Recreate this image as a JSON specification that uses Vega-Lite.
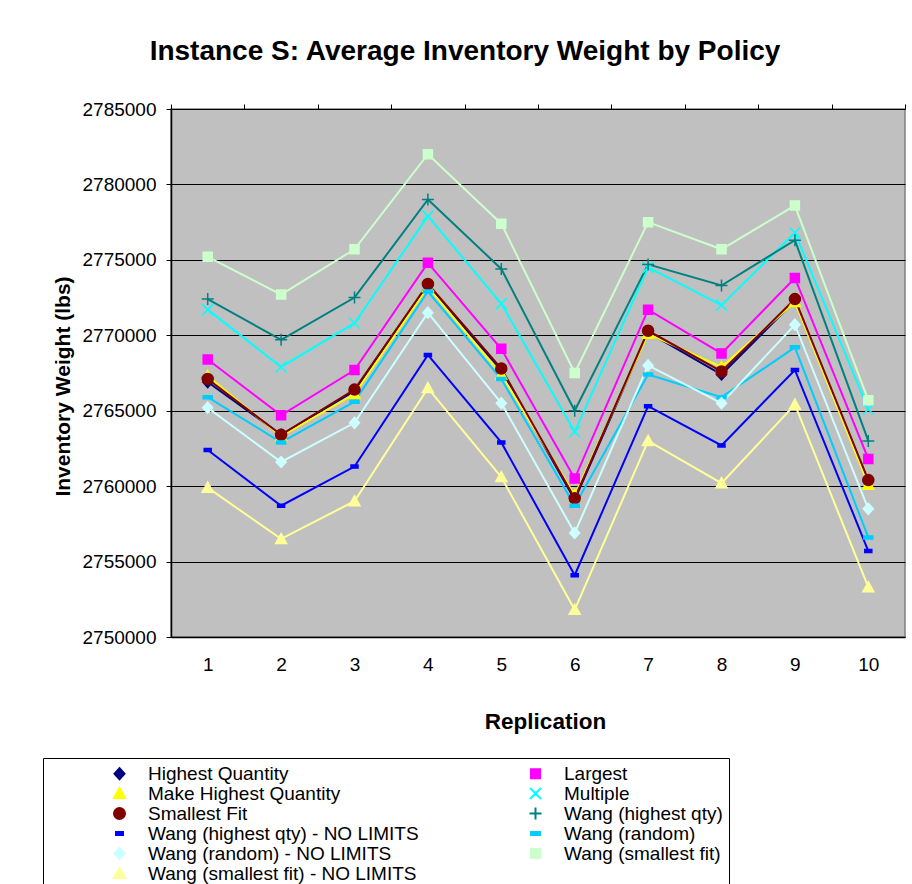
{
  "$schema": "https://vega.github.io/schema/vega-lite/v6.json",
  "autosize": {"type": "none"},
  "padding": {"left": 171, "top": 109, "right": 7, "bottom": 247},
  "background": "white",
  "width": 734,
  "height": 528,
  "title": {"text": "Instance S: Average Inventory Weight by Policy", "font": "Liberation Sans", "fontSize": 28, "fontWeight": "bold", "color": "black", "anchor": "middle", "frame": "group", "baseline": "alphabetic", "offset": 12, "dx": -73},
  "view": {"fill": "#C0C0C0", "stroke": "#808080", "strokeWidth": 1.5},
  "resolve": {"axis": {"x": "independent"}},
  "data": {"values": [
    {"r":1,"p":"Highest Quantity","v":2766900},{"r":2,"p":"Highest Quantity","v":2763400},{"r":3,"p":"Highest Quantity","v":2766300},{"r":4,"p":"Highest Quantity","v":2773300},{"r":5,"p":"Highest Quantity","v":2767700},{"r":6,"p":"Highest Quantity","v":2759100},{"r":7,"p":"Highest Quantity","v":2770200},{"r":8,"p":"Highest Quantity","v":2767400},{"r":9,"p":"Highest Quantity","v":2772300},{"r":10,"p":"Highest Quantity","v":2760300},
    {"r":1,"p":"Largest","v":2768400},{"r":2,"p":"Largest","v":2764700},{"r":3,"p":"Largest","v":2767700},{"r":4,"p":"Largest","v":2774800},{"r":5,"p":"Largest","v":2769100},{"r":6,"p":"Largest","v":2760500},{"r":7,"p":"Largest","v":2771700},{"r":8,"p":"Largest","v":2768800},{"r":9,"p":"Largest","v":2773800},{"r":10,"p":"Largest","v":2761800},
    {"r":1,"p":"Make Highest Quantity","v":2767300},{"r":2,"p":"Make Highest Quantity","v":2763300},{"r":3,"p":"Make Highest Quantity","v":2766100},{"r":4,"p":"Make Highest Quantity","v":2773200},{"r":5,"p":"Make Highest Quantity","v":2767400},{"r":6,"p":"Make Highest Quantity","v":2759400},{"r":7,"p":"Make Highest Quantity","v":2770100},{"r":8,"p":"Make Highest Quantity","v":2767900},{"r":9,"p":"Make Highest Quantity","v":2772200},{"r":10,"p":"Make Highest Quantity","v":2760100},
    {"r":1,"p":"Multiple","v":2771700},{"r":2,"p":"Multiple","v":2767900},{"r":3,"p":"Multiple","v":2770800},{"r":4,"p":"Multiple","v":2777900},{"r":5,"p":"Multiple","v":2772100},{"r":6,"p":"Multiple","v":2763600},{"r":7,"p":"Multiple","v":2774500},{"r":8,"p":"Multiple","v":2772000},{"r":9,"p":"Multiple","v":2776800},{"r":10,"p":"Multiple","v":2765100},
    {"r":1,"p":"Smallest Fit","v":2767100},{"r":2,"p":"Smallest Fit","v":2763400},{"r":3,"p":"Smallest Fit","v":2766400},{"r":4,"p":"Smallest Fit","v":2773400},{"r":5,"p":"Smallest Fit","v":2767800},{"r":6,"p":"Smallest Fit","v":2759200},{"r":7,"p":"Smallest Fit","v":2770300},{"r":8,"p":"Smallest Fit","v":2767600},{"r":9,"p":"Smallest Fit","v":2772400},{"r":10,"p":"Smallest Fit","v":2760400},
    {"r":1,"p":"Wang (highest qty)","v":2772400},{"r":2,"p":"Wang (highest qty)","v":2769700},{"r":3,"p":"Wang (highest qty)","v":2772500},{"r":4,"p":"Wang (highest qty)","v":2779000},{"r":5,"p":"Wang (highest qty)","v":2774400},{"r":6,"p":"Wang (highest qty)","v":2765000},{"r":7,"p":"Wang (highest qty)","v":2774700},{"r":8,"p":"Wang (highest qty)","v":2773300},{"r":9,"p":"Wang (highest qty)","v":2776300},{"r":10,"p":"Wang (highest qty)","v":2763000},
    {"r":1,"p":"Wang (highest qty) - NO LIMITS","v":2762400},{"r":2,"p":"Wang (highest qty) - NO LIMITS","v":2758700},{"r":3,"p":"Wang (highest qty) - NO LIMITS","v":2761300},{"r":4,"p":"Wang (highest qty) - NO LIMITS","v":2768700},{"r":5,"p":"Wang (highest qty) - NO LIMITS","v":2762900},{"r":6,"p":"Wang (highest qty) - NO LIMITS","v":2754100},{"r":7,"p":"Wang (highest qty) - NO LIMITS","v":2765300},{"r":8,"p":"Wang (highest qty) - NO LIMITS","v":2762700},{"r":9,"p":"Wang (highest qty) - NO LIMITS","v":2767700},{"r":10,"p":"Wang (highest qty) - NO LIMITS","v":2755700},
    {"r":1,"p":"Wang (random)","v":2765900},{"r":2,"p":"Wang (random)","v":2762900},{"r":3,"p":"Wang (random)","v":2765600},{"r":4,"p":"Wang (random)","v":2772900},{"r":5,"p":"Wang (random)","v":2767100},{"r":6,"p":"Wang (random)","v":2758700},{"r":7,"p":"Wang (random)","v":2767400},{"r":8,"p":"Wang (random)","v":2765900},{"r":9,"p":"Wang (random)","v":2769200},{"r":10,"p":"Wang (random)","v":2756600},
    {"r":1,"p":"Wang (random) - NO LIMITS","v":2765200},{"r":2,"p":"Wang (random) - NO LIMITS","v":2761600},{"r":3,"p":"Wang (random) - NO LIMITS","v":2764200},{"r":4,"p":"Wang (random) - NO LIMITS","v":2771500},{"r":5,"p":"Wang (random) - NO LIMITS","v":2765500},{"r":6,"p":"Wang (random) - NO LIMITS","v":2756900},{"r":7,"p":"Wang (random) - NO LIMITS","v":2768000},{"r":8,"p":"Wang (random) - NO LIMITS","v":2765500},{"r":9,"p":"Wang (random) - NO LIMITS","v":2770700},{"r":10,"p":"Wang (random) - NO LIMITS","v":2758500},
    {"r":1,"p":"Wang (smallest fit)","v":2775200},{"r":2,"p":"Wang (smallest fit)","v":2772700},{"r":3,"p":"Wang (smallest fit)","v":2775700},{"r":4,"p":"Wang (smallest fit)","v":2782000},{"r":5,"p":"Wang (smallest fit)","v":2777400},{"r":6,"p":"Wang (smallest fit)","v":2767500},{"r":7,"p":"Wang (smallest fit)","v":2777500},{"r":8,"p":"Wang (smallest fit)","v":2775700},{"r":9,"p":"Wang (smallest fit)","v":2778600},{"r":10,"p":"Wang (smallest fit)","v":2765700},
    {"r":1,"p":"Wang (smallest fit) - NO LIMITS","v":2759900},{"r":2,"p":"Wang (smallest fit) - NO LIMITS","v":2756500},{"r":3,"p":"Wang (smallest fit) - NO LIMITS","v":2759000},{"r":4,"p":"Wang (smallest fit) - NO LIMITS","v":2766500},{"r":5,"p":"Wang (smallest fit) - NO LIMITS","v":2760600},{"r":6,"p":"Wang (smallest fit) - NO LIMITS","v":2751800},{"r":7,"p":"Wang (smallest fit) - NO LIMITS","v":2763000},{"r":8,"p":"Wang (smallest fit) - NO LIMITS","v":2760200},{"r":9,"p":"Wang (smallest fit) - NO LIMITS","v":2765400},{"r":10,"p":"Wang (smallest fit) - NO LIMITS","v":2753300}
  ]},
  "layer": [
    {
      "mark": {"type": "line", "strokeWidth": 2},
      "encoding": {
        "x": {"field": "r", "type": "quantitative", "scale": {"domain": [0.5, 10.5], "nice": false, "zero": false},
              "axis": {"values": [1,2,3,4,5,6,7,8,9,10], "format": "d", "ticks": false, "domain": true, "domainColor": "black", "domainWidth": 1.5, "grid": false, "labelFontSize": 19, "labelPadding": 18, "labelColor": "black", "title": "Replication", "titleFontSize": 22.5, "titleFontWeight": "bold", "titleColor": "black", "titlePadding": 36, "titleX": 374}},
        "y": {"field": "v", "type": "quantitative", "scale": {"domain": [2750000, 2785000], "nice": false, "zero": false},
              "axis": {"values": [2750000,2755000,2760000,2765000,2770000,2775000,2780000,2785000], "format": "d", "grid": true, "gridColor": "black", "gridWidth": 1, "gridOpacity": 1, "tickColor": "black", "tickSize": 5, "domainColor": "black", "domainWidth": 1.5, "labelFontSize": 19, "labelColor": "black", "labelPadding": 10, "title": "Inventory Weight (lbs)", "titleFontSize": 21, "titleFontWeight": "bold", "titleColor": "black", "titlePadding": 9, "titleY": 277}},
        "color": {"field": "p", "type": "nominal",
                  "scale": {"domain": ["Highest Quantity","Largest","Make Highest Quantity","Multiple","Smallest Fit","Wang (highest qty)","Wang (highest qty) - NO LIMITS","Wang (random)","Wang (random) - NO LIMITS","Wang (smallest fit)","Wang (smallest fit) - NO LIMITS"],
                            "range": ["#000080","#FF00FF","#FFFF00","#00FFFF","#800000","#008080","#0000FF","#00CCFF","#CCFFFF","#CCFFCC","#FFFF99"]}}
      }
    },
    {
      "mark": {"type": "point", "filled": true, "size": 100, "strokeWidth": 1.5, "opacity": 1},
      "encoding": {
        "x": {"field": "r", "type": "quantitative",
              "axis": {"values": [0.5,1.5,2.5,3.5,4.5,5.5,6.5,7.5,8.5,9.5,10.5], "labels": false, "ticks": true, "tickSize": 5, "tickColor": "black", "domain": false, "grid": false, "title": null}},
        "y": {"field": "v", "type": "quantitative"},
        "color": {"field": "p", "type": "nominal",
                  "legend": {"orient": "none", "legendX": -128, "legendY": 649, "direction": "horizontal", "columns": 2, "columnPadding": 46, "rowPadding": -2, "padding": 6, "strokeColor": "black", "fillColor": "white", "title": null, "labelFont": "Liberation Sans", "labelFontSize": 19, "labelColor": "black", "labelOffset": 19, "symbolOffset": 61, "labelLimit": 1000, "symbolSize": 100, "symbolStrokeWidth": 2}},
        "stroke": {"field": "p", "type": "nominal", "legend": null,
                  "scale": {"domain": ["Highest Quantity","Largest","Make Highest Quantity","Multiple","Smallest Fit","Wang (highest qty)","Wang (highest qty) - NO LIMITS","Wang (random)","Wang (random) - NO LIMITS","Wang (smallest fit)","Wang (smallest fit) - NO LIMITS"],
                            "range": ["#000080","#FF00FF","#FFFF00","#00FFFF","#800000","#008080","#0000FF","#00CCFF","#CCFFFF","#CCFFCC","#FFFF99"]}},
        "shape": {"field": "p", "type": "nominal", "legend": null,
                  "scale": {"domain": ["Highest Quantity","Largest","Make Highest Quantity","Multiple","Smallest Fit","Wang (highest qty)","Wang (highest qty) - NO LIMITS","Wang (random)","Wang (random) - NO LIMITS","Wang (smallest fit)","Wang (smallest fit) - NO LIMITS"],
                            "range": ["M0,-1.1L1,0L0,1.1L-1,0Z","M-0.9,-0.9H0.9V0.9H-0.9Z","M0,-1.1L1.1,0.9H-1.1Z","M-1.1,-1.1L1.1,1.1M1.1,-1.1L-1.1,1.1","M-1.1,0A1.1,1.1,0,1,1,1.1,0A1.1,1.1,0,1,1,-1.1,0Z","M0,-1.2V1.2M-1.2,0H1.2","M-0.7,-0.3H0.7V0.3H-0.7Z","M-0.9,-0.3H0.9V0.3H-0.9Z","M0,-1.1L1,0L0,1.1L-1,0Z","M-0.9,-0.9H0.9V0.9H-0.9Z","M0,-1.1L1.1,0.9H-1.1Z"]}}
      }
    }
  ],
  "config": {
    "font": "Liberation Sans",
    "axis": {"labelFont": "Liberation Sans", "titleFont": "Liberation Sans"},
    "legend": {"labelFont": "Liberation Sans"}
  }
}
